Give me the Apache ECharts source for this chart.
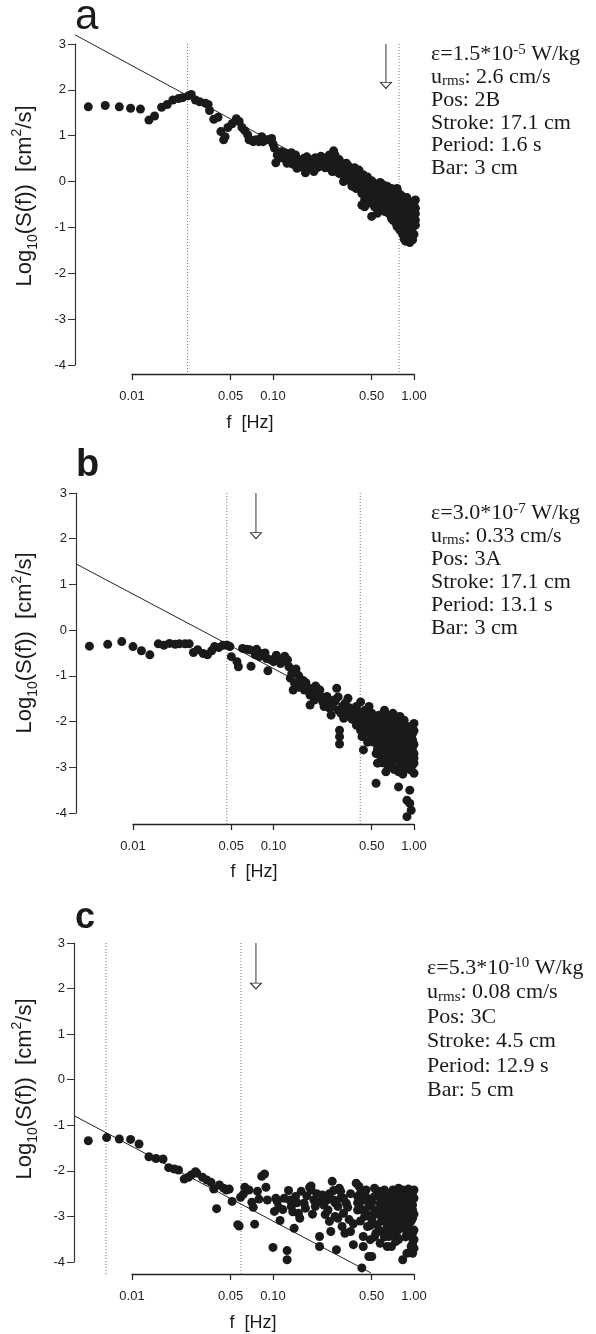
<!DOCTYPE html>
<html><head><meta charset="utf-8">
<script src="https://cdn.jsdelivr.net/npm/echarts@6/dist/echarts.min.js"></script>
<style>html,body{margin:0;padding:0;background:#fff}#c{width:596px;height:1334px}</style>
</head><body><div id="c"></div>
<script>
// ---------------- DATA (x = log10 f [Hz], y = log10 S(f) [cm^2/s]) ----------------
const xTickFreqs = [0.01, 0.05, 0.10, 0.50, 1.00];
const xTickLabels = ['0.01', '0.05', '0.10', '0.50', '1.00'];
const yRange = [-4, 3];

const pointsA = [
[-2.31,1.63],[-2.19,1.66],[-2.09,1.63],[-2.01,1.60],[-1.94,1.58],[-1.88,1.34],[-1.84,1.43],[-1.79,1.62],[-1.75,1.68],[-1.71,1.78],[-1.67,1.81],[-1.64,1.83],[-1.60,1.87],[-1.58,1.90],[-1.55,1.78],[-1.52,1.74],[-1.48,1.71],[-1.46,1.68],[-1.45,1.55],[-1.42,1.36],[-1.39,1.40],[-1.37,1.09],[-1.35,0.91],[-1.34,0.98],[-1.32,1.18],[-1.29,1.26],[-1.26,1.37],[-1.24,1.31],[-1.22,1.18],[-1.20,1.11],[-1.18,1.02],[-1.17,0.91],[-1.14,0.87],[-1.10,0.87],[-1.08,0.98],[-1.05,0.91],[-1.03,0.91],[-1.00,0.82],[-0.99,0.73],[-0.97,0.58],[-0.98,0.41],[-0.95,0.54],[-0.93,0.51],[-0.90,0.40],[-0.87,0.63],[-0.84,0.58],[-0.83,0.29],[-0.81,0.47],[-0.78,0.51],[-0.77,0.19],[-0.75,0.36],[-0.73,0.47],[-0.70,0.40],[-0.68,0.31],[-0.65,0.43],[-0.63,0.51],[-0.61,0.54],[-0.58,0.40],[-0.57,0.67],[-0.56,0.58],[-0.55,0.32],[-0.53,0.18],[-0.51,0.22],[-0.50,0.00],[-0.48,0.40],[-0.46,0.25],[-0.44,0.09],[-0.42,0.00],[-0.40,0.17],[-0.38,-0.11],[-0.37,-0.26],[-0.36,-0.04],[-0.34,0.07],[-0.32,-0.18],[-0.31,-0.29],[-0.37,-0.51],[-0.29,-0.04],[-0.30,-0.76],[-0.26,-0.33],[-0.25,-0.62],[-0.24,-0.15],[-0.23,-0.40],[-0.22,-0.07],[-0.19,-0.26],[-0.18,-0.69],[-0.17,-0.44],[-0.16,-0.55],[-0.15,-0.84],[-0.13,-0.33],[-0.12,-0.15],[-0.12,-0.98],[-0.11,-0.62],[-0.10,-0.76],[-0.10,-1.06],[-0.09,-0.40],[-0.08,-0.84],[-0.06,-0.98],[-0.06,-1.20],[-0.05,-0.69],[-0.04,-0.55],[-0.04,-1.24],[-0.03,-1.13],[-0.02,-0.91],[0.00,-0.47],[0.00,-0.69],[-0.02,-1.06],[-0.01,-1.27],[-0.06,-1.30],[-0.03,-1.33],[-0.08,-1.15],
[-0.94,0.65],[-0.89,0.47],[-0.86,0.38],[-0.82,0.38],[-0.76,0.43],[-0.74,0.29],[-0.71,0.22],[-0.69,0.41],[-0.64,0.38],[-0.62,0.41],[-0.60,0.58],[-0.58,0.22],[-0.54,0.43],[-0.51,0.36],[-0.49,0.29],[-0.45,0.18],[-0.43,0.22],[-0.41,0.03],[-0.39,0.11],[-0.35,-0.11],[-0.32,0.00],[-0.30,-0.15],[-0.28,-0.22],[-0.25,-0.11],[-0.23,-0.22],[-0.20,-0.33],[-0.18,-0.18],[-0.16,-0.33],[-0.15,-0.47],[-0.13,-0.62],[-0.11,-0.40],[-0.09,-0.55],[-0.08,-0.66],[-0.06,-0.47],[-0.05,-0.87],[-0.04,-0.76],[-0.03,-0.62],[-0.02,-0.76],[0.00,-0.95],[0.01,-0.84],[-0.04,-1.02],[-0.08,-1.13],[-0.05,-1.09],[0.01,-0.58],[0.01,-0.40],[-0.13,-0.76],[-0.16,-0.66],[-0.20,-0.55],[-0.22,-0.47],[-0.24,-0.55],[-0.26,-0.69],[-0.35,-0.40],[-0.31,-0.47],[-0.34,-0.33],[-0.41,-0.15],[-0.44,-0.04],[-0.46,0.03],[-0.48,0.14],[-0.52,0.29],[-0.56,0.46],[-0.59,0.51],[-0.67,0.47],[-0.76,0.54],[-0.80,0.32],[-0.88,0.54],[-0.91,0.62],[-1.01,0.94],[-1.12,0.91],[-1.07,0.87],[-1.16,0.91],
[-0.50,0.30],[-0.49,0.10],[-0.47,0.35],[-0.47,0.05],[-0.45,0.30],[-0.44,-0.10],[-0.43,0.12],[-0.42,0.30],[-0.40,-0.05],[-0.39,0.25],[-0.38,0.05],[-0.37,-0.15],[-0.36,0.15],[-0.35,-0.25],[-0.34,-0.05],[-0.33,0.10],[-0.33,-0.35],[-0.31,-0.10],[-0.30,0.02],[-0.29,-0.30],[-0.28,-0.05],[-0.27,-0.45],[-0.26,-0.15],[-0.25,-0.30],[-0.24,-0.02],[-0.23,-0.55],[-0.22,-0.30],[-0.21,-0.15],[-0.20,-0.42],[-0.19,-0.10],[-0.18,-0.55],[-0.17,-0.25],[-0.16,-0.15],[-0.15,-0.65],[-0.14,-0.40],[-0.14,-0.20],[-0.13,-0.90],[-0.12,-0.50],[-0.11,-0.25],[-0.11,-0.80],[-0.10,-0.55],[-0.09,-0.30],[-0.09,-0.95],[-0.08,-0.50],[-0.07,-0.75],[-0.07,-1.05],[-0.06,-0.60],[-0.05,-0.35],[-0.05,-0.95],[-0.04,-0.65],[-0.03,-0.45],[-0.03,-0.85],[-0.02,-1.18],[-0.02,-0.55],[-0.01,-0.70],[-0.01,-1.00],[0.00,-0.85],[0.00,-1.15],[0.01,-0.70],[0.01,-0.95],[0.00,-0.58],[-0.04,-1.15],[-0.07,-1.25],[-0.10,-0.95],[-0.16,-0.80],[-0.21,-0.65],[-0.28,-0.55],[-0.35,-0.55],[-0.53,0.48],[-0.55,0.45],[-0.57,0.30],[-0.60,0.35],[-0.63,0.30],[-0.66,0.55],[-0.70,0.52],[-0.72,0.33],[-0.79,0.42],[-0.85,0.45]
];
const pointsB = [
[-2.31,-0.35],[-2.18,-0.31],[-2.08,-0.25],[-2.00,-0.36],[-1.94,-0.45],[-1.88,-0.54],[-1.82,-0.30],[-1.78,-0.33],[-1.74,-0.29],[-1.70,-0.31],[-1.67,-0.30],[-1.63,-0.30],[-1.60,-0.30],[-1.57,-0.49],[-1.54,-0.43],[-1.50,-0.51],[-1.47,-0.54],[-1.44,-0.45],[-1.42,-0.36],[-1.39,-0.38],[-1.36,-0.33],[-1.33,-0.33],[-1.31,-0.36],[-1.30,-0.58],[-1.26,-0.69],[-1.25,-0.80],[-1.22,-0.40],[-1.19,-0.42],[-1.17,-0.43],[-1.16,-0.79],[-1.13,-0.54],[-1.12,-0.42],[-1.10,-0.58],[-1.08,-0.51],[-1.05,-0.62],[-1.04,-0.89],[-1.02,-0.65],[-1.00,-0.69],[-0.97,-0.62],[-0.95,-0.73],[-0.92,-0.57],[-0.90,-0.65],[-0.89,-0.80],[-0.88,-1.05],[-0.86,-1.31],[-0.84,-0.93],[-0.82,-1.00],[-0.80,-1.15],[-0.78,-1.31],[-0.76,-1.24],[-0.74,-1.64],[-0.72,-1.35],[-0.70,-1.22],[-0.67,-1.31],[-0.66,-1.46],[-0.64,-1.67],[-0.63,-1.49],[-0.60,-1.71],[-0.59,-1.86],[-0.57,-1.53],[-0.55,-1.27],[-0.54,-1.46],[-0.53,-2.19],[-0.53,-2.33],[-0.53,-2.49],[-0.51,-1.67],[-0.48,-1.82],[-0.47,-1.49],[-0.45,-1.75],[-0.43,-1.93],[-0.41,-1.67],[-0.40,-1.86],[-0.38,-2.08],[-0.38,-1.57],[-0.37,-2.33],[-0.36,-2.62],[-0.34,-1.82],[-0.32,-1.67],[-0.31,-1.97],[-0.30,-2.22],[-0.27,-2.70],[-0.27,-3.35],[-0.26,-2.91],[-0.25,-1.86],[-0.24,-2.11],[-0.22,-2.48],[-0.21,-1.75],[-0.20,-3.10],[-0.19,-2.26],[-0.18,-1.97],[-0.17,-2.55],[-0.15,-1.82],[-0.14,-2.11],[-0.13,-2.40],[-0.12,-2.70],[-0.11,-3.10],[-0.11,-3.43],[-0.10,-1.89],[-0.08,-2.26],[-0.07,-2.84],[-0.06,-3.02],[-0.05,-2.11],[-0.05,-3.72],[-0.03,-3.50],[-0.03,-3.79],[-0.02,-2.40],[-0.02,-3.94],[-0.01,-2.55],[0.00,-2.04],[0.00,-3.13],[0.00,-2.70],[-0.05,-4.08],
[-0.85,-1.16],[-0.82,-1.25],[-0.77,-1.15],[-0.74,-1.42],[-0.71,-1.53],[-0.69,-1.46],[-0.65,-1.57],[-0.61,-1.60],[-0.58,-1.67],[-0.54,-1.75],[-0.52,-1.82],[-0.50,-1.93],[-0.46,-1.89],[-0.43,-1.78],[-0.39,-1.97],[-0.35,-2.04],[-0.33,-1.93],[-0.30,-1.82],[-0.28,-2.04],[-0.26,-2.26],[-0.24,-1.93],[-0.22,-2.22],[-0.20,-2.00],[-0.18,-2.33],[-0.17,-2.11],[-0.15,-2.62],[-0.14,-2.29],[-0.13,-1.97],[-0.12,-2.22],[-0.11,-2.48],[-0.10,-2.77],[-0.08,-2.55],[-0.07,-1.97],[-0.06,-2.40],[-0.05,-2.66],[-0.03,-2.22],[-0.02,-2.84],[-0.01,-2.26],[0.00,-2.91],[-0.19,-2.62],[-0.21,-2.77],[-0.24,-2.55],[-0.28,-2.40],[-0.33,-2.19],[-0.38,-2.19],[-0.41,-2.08],[-0.07,-2.40],[-0.05,-2.99],[-0.08,-2.91],[-0.13,-2.84],[-0.15,-2.99],[-0.18,-2.84],
[-0.42,-1.72],[-0.40,-2.00],[-0.39,-1.80],[-0.37,-1.90],[-0.36,-2.15],[-0.35,-1.75],[-0.34,-2.25],[-0.33,-2.05],[-0.31,-1.85],[-0.31,-2.30],[-0.30,-2.10],[-0.29,-2.45],[-0.28,-1.90],[-0.27,-2.20],[-0.26,-2.05],[-0.25,-2.40],[-0.24,-2.75],[-0.23,-2.05],[-0.22,-2.35],[-0.21,-2.60],[-0.20,-1.85],[-0.20,-2.25],[-0.19,-2.45],[-0.18,-2.10],[-0.17,-2.70],[-0.17,-2.35],[-0.16,-1.95],[-0.15,-2.20],[-0.15,-2.45],[-0.14,-2.80],[-0.13,-2.10],[-0.12,-2.55],[-0.12,-1.90],[-0.11,-2.30],[-0.10,-2.60],[-0.10,-2.15],[-0.09,-2.95],[-0.09,-2.40],[-0.08,-2.05],[-0.07,-2.65],[-0.07,-2.25],[-0.06,-2.50],[-0.06,-2.10],[-0.05,-2.35],[-0.05,-2.80],[-0.04,-2.20],[-0.04,-2.55],[-0.03,-2.70],[-0.03,-2.35],[-0.02,-2.10],[-0.02,-2.50],[-0.01,-2.65],[-0.01,-2.40],[0.00,-2.20],[0.00,-2.50],[0.00,-2.80],[-0.01,-2.95],[-0.03,-3.05],[-0.08,-3.15],[-0.14,-3.05],[-0.19,-2.95],[-0.23,-2.90],[-0.26,-2.60],[-0.33,-2.45],[-0.44,-1.95],[-0.46,-1.70],[-0.49,-1.60],[-0.56,-1.55],[-0.62,-1.45],[-0.68,-1.30],[-0.73,-1.28],[-0.79,-1.10],[-0.84,-0.85],[-0.87,-0.95],[-0.93,-0.68],[-0.98,-0.55],[-1.06,-0.50]
];
const pointsC = [
[-2.31,-1.34],[-2.18,-1.27],[-2.09,-1.30],[-2.01,-1.31],[-1.95,-1.41],[-1.88,-1.69],[-1.83,-1.73],[-1.78,-1.74],[-1.74,-1.93],[-1.70,-1.96],[-1.67,-1.98],[-1.63,-2.18],[-1.60,-2.14],[-1.58,-2.09],[-1.55,-2.02],[-1.54,-2.05],[-1.50,-2.14],[-1.47,-2.20],[-1.44,-2.25],[-1.42,-2.40],[-1.40,-2.83],[-1.38,-2.31],[-1.35,-2.38],[-1.33,-2.42],[-1.31,-2.40],[-1.29,-2.67],[-1.25,-3.18],[-1.24,-3.21],[-1.23,-2.58],[-1.21,-2.51],[-1.20,-2.36],[-1.17,-2.42],[-1.15,-2.69],[-1.14,-2.80],[-1.13,-3.17],[-1.11,-2.45],[-1.10,-2.62],[-1.08,-2.12],[-1.06,-2.07],[-1.05,-2.36],[-1.04,-2.64],[-1.00,-3.68],[-0.99,-2.89],[-0.98,-2.60],[-0.97,-2.67],[-0.95,-3.09],[-0.93,-2.85],[-0.90,-3.75],[-0.90,-3.95],[-0.89,-2.43],[-0.88,-2.64],[-0.87,-2.78],[-0.85,-3.26],[-0.84,-2.56],[-0.82,-2.93],[-0.81,-3.04],[-0.78,-2.71],[-0.77,-2.82],[-0.74,-2.36],[-0.73,-2.42],[-0.71,-2.64],[-0.70,-2.78],[-0.67,-3.66],[-0.67,-3.44],[-0.66,-2.67],[-0.65,-2.53],[-0.63,-2.96],[-0.62,-2.64],[-0.61,-2.86],[-0.59,-3.33],[-0.58,-2.23],[-0.57,-2.43],[-0.57,-2.64],[-0.55,-3.73],[-0.54,-3.04],[-0.54,-2.78],[-0.53,-2.38],[-0.52,-2.60],[-0.51,-3.22],[-0.50,-2.93],[-0.49,-3.37],[-0.48,-2.71],[-0.46,-3.07],[-0.45,-3.33],[-0.43,-3.16],[-0.43,-3.62],[-0.41,-2.27],[-0.40,-2.56],[-0.40,-2.86],[-0.39,-2.34],[-0.38,-2.49],[-0.38,-2.67],[-0.37,-4.13],[-0.36,-3.44],[-0.36,-3.66],[-0.35,-3.00],[-0.35,-2.64],[-0.34,-2.42],[-0.33,-3.22],[-0.32,-3.88],[-0.32,-2.78],[-0.31,-3.51],[-0.30,-3.88],[-0.30,-3.07],[-0.28,-2.56],[-0.27,-3.37],[-0.27,-2.86],[-0.26,-3.18],[-0.25,-2.45],[-0.24,-3.59],[-0.23,-2.64],[-0.22,-3.00],[-0.22,-3.33],[-0.21,-2.42],[-0.20,-2.78],[-0.19,-3.66],[-0.19,-3.22],[-0.18,-2.56],[-0.18,-3.44],[-0.17,-3.00],[-0.16,-2.71],[-0.16,-3.66],[-0.15,-2.42],[-0.14,-2.86],[-0.14,-3.15],[-0.12,-2.56],[-0.11,-2.93],[-0.11,-3.29],[-0.10,-2.71],[-0.09,-3.04],[-0.08,-3.95],[-0.08,-2.42],[-0.07,-2.64],[-0.06,-2.86],[-0.05,-3.81],[-0.05,-2.49],[-0.04,-3.00],[-0.03,-2.75],[-0.03,-2.64],[-0.02,-3.66],[-0.01,-3.37],[-0.01,-2.86],[-0.01,-3.81],[-0.01,-3.04],[0.00,-3.51],[0.00,-2.42],[-0.04,-2.40],[-0.11,-2.38],[-0.73,-2.33],[-0.60,-3.11],[-0.56,-3.00],[-0.24,-2.71],[-0.14,-2.64],[-0.08,-2.56],[-0.20,-2.49],[-0.28,-2.38],[-0.35,-2.53],[-0.05,-3.37],[-0.11,-3.51],
[-0.40,-2.70],[-0.38,-3.10],[-0.37,-2.85],[-0.36,-2.50],[-0.34,-2.95],[-0.33,-2.60],[-0.31,-3.20],[-0.30,-2.70],[-0.29,-2.95],[-0.28,-3.45],[-0.27,-2.55],[-0.26,-2.95],[-0.25,-3.30],[-0.24,-2.85],[-0.23,-3.10],[-0.22,-2.55],[-0.21,-3.45],[-0.20,-2.95],[-0.19,-2.70],[-0.18,-3.10],[-0.17,-2.50],[-0.16,-2.90],[-0.15,-3.30],[-0.14,-2.55],[-0.13,-3.00],[-0.12,-2.75],[-0.12,-3.45],[-0.11,-2.60],[-0.10,-3.15],[-0.09,-2.50],[-0.09,-2.85],[-0.08,-3.25],[-0.07,-2.95],[-0.07,-2.55],[-0.06,-3.10],[-0.06,-2.70],[-0.05,-2.90],[-0.04,-2.60],[-0.04,-3.20],[-0.03,-2.50],[-0.03,-2.95],[-0.02,-2.70],[-0.02,-3.10],[-0.01,-2.55],[-0.01,-2.75],[0.00,-2.60],[0.00,-2.95],[0.00,-3.30],[0.00,-3.70],[-0.01,-3.60],[-0.02,-3.45],[-0.06,-3.45],[-0.13,-3.55],[-0.16,-3.35],[-0.45,-2.50],[-0.47,-2.80],[-0.50,-2.60],[-0.52,-2.45],[-0.56,-2.70],[-0.60,-2.50],[-0.64,-2.75],[-0.69,-2.50],[-0.72,-2.95],[-0.76,-2.55],[-0.80,-2.45],[-0.83,-2.70],[-0.86,-2.90],[-0.92,-2.60],[-0.96,-2.80]
];

// fitted -5/3 lines (endpoints), dotted marker frequencies, arrows [log10 f, top, tip]
const fitA = [[-2.404, 3.20], [0.05, -0.88]];
const fitB = [[-2.406, 1.45], [0.08, -2.60]];
const fitC = [[-2.411, -0.79], [-0.305, -4.24]];
const dottedA = [-1.606, -0.106];
const dottedB = [-1.333, -0.383];
const dottedC = [-2.184, -1.227];
const arrowA = [-0.199, 3.0, 2.03];
const arrowB = [-1.125, 3.0, 2.0];
const arrowC = [-1.121, 3.0, 1.99];

const infoA = {eps: '1.5', exp: '-5', urms: '2.6', pos: '2B', stroke: '17.1', period: '1.6', bar: '3'};
const infoB = {eps: '3.0', exp: '-7', urms: '0.33', pos: '3A', stroke: '17.1', period: '13.1', bar: '3'};
const infoC = {eps: '5.3', exp: '-10', urms: '0.08', pos: '3C', stroke: '4.5', period: '12.9', bar: '5'};
const letters = ['a', 'b', 'c'];

// ---------------- LAYOUT ----------------
const panels = [
  {pts: pointsA, fit: fitA, dotted: dottedA, arrow: arrowA, info: infoA,
   gl: 75, gt: 44, gh: 321, axL: 132, axW: 282, axY: 374,
   letter: {x: 75, y: 17, size: 42, weight: 'normal'}, title: {x: 25, y: 196},
   infoPos: {x: 431, y: 43, lh: 22.8}, fhz: {x: 250, y: 423}},
  {pts: pointsB, fit: fitB, dotted: dottedB, arrow: arrowB, info: infoB,
   gl: 76, gt: 493, gh: 320, axL: 133, axW: 281, axY: 824,
   letter: {x: 76, y: 466, size: 38, weight: 'bold'}, title: {x: 25, y: 643},
   infoPos: {x: 431, y: 502, lh: 23}, fhz: {x: 254, y: 872}},
  {pts: pointsC, fit: fitC, dotted: dottedC, arrow: arrowC, info: infoC,
   gl: 74, gt: 943, gh: 319, axL: 132, axW: 282, axY: 1274,
   letter: {x: 75, y: 918, size: 36, weight: 'bold'}, title: {x: 25, y: 1089},
   infoPos: {x: 427, y: 956, lh: 24.4}, fhz: {x: 253, y: 1323}}
];

const INK = '#1a1a1a';
const tickLog = xTickFreqs.map(v => Math.log10(v));
const grid = [], xAxis = [], yAxis = [], series = [], graphic = [];

panels.forEach((p, i) => {
  const pxPerDec = p.axW / 2;
  const xMin = -2 - (p.axL - p.gl) / pxPerDec;
  const gw = p.axL + p.axW - p.gl;
  const pxPerUnit = p.gh / (yRange[1] - yRange[0]);
  const yBottom = yRange[0] - (p.axY - (p.gt + p.gh)) / pxPerUnit;
  const g1 = i * 2, g2 = i * 2 + 1;

  grid.push({left: p.gl, top: p.gt, width: gw, height: p.gh});
  grid.push({left: p.axL, top: p.axY - 1, width: p.axW, height: 1});

  xAxis.push({gridIndex: g1, type: 'value', min: xMin, max: 0, show: false});
  xAxis.push({gridIndex: g2, type: 'value', min: -2, max: 0, position: 'bottom',
    axisLine: {show: true, lineStyle: {color: '#222', width: 1.3}},
    axisTick: {show: true, customValues: tickLog, length: 6, lineStyle: {color: '#222', width: 1.2}},
    axisLabel: {show: true, customValues: tickLog, margin: 16, fontSize: 13, color: '#222',
      fontFamily: 'Liberation Sans',
      formatter: v => { const k = tickLog.findIndex(t => Math.abs(t - v) < 1e-6); return k >= 0 ? xTickLabels[k] : ''; }},
    splitLine: {show: false}});

  yAxis.push({gridIndex: g1, type: 'value', min: yRange[0], max: yRange[1], interval: 1,
    axisLine: {show: true, onZero: false, lineStyle: {color: '#333', width: 1.2}},
    axisTick: {show: true, length: 7, lineStyle: {color: '#333', width: 1}},
    axisLabel: {margin: 9, fontSize: 13, color: '#222', fontFamily: 'Liberation Sans'},
    splitLine: {show: false}});
  yAxis.push({gridIndex: g2, type: 'value', min: 0, max: 1, show: false});

  p.dotted.forEach(x => {
    series.push({type: 'line', xAxisIndex: g1, yAxisIndex: g1, clip: false, silent: true,
      symbol: 'none', data: [[x, yRange[1]], [x, yBottom]],
      lineStyle: {color: '#777', width: 1, type: [1, 2]}, z: 1});
  });
  series.push({type: 'line', xAxisIndex: g1, yAxisIndex: g1, clip: false, silent: true,
    symbol: 'none', data: p.fit, lineStyle: {color: '#222', width: 1}, z: 2});
  series.push({type: 'line', xAxisIndex: g1, yAxisIndex: g1, clip: false, silent: true,
    symbol: 'none', data: [[p.arrow[0], p.arrow[1]], [p.arrow[0], p.arrow[2]]],
    lineStyle: {color: '#333', width: 1}, z: 2});
  series.push({type: 'scatter', xAxisIndex: g1, yAxisIndex: g1, clip: false, silent: true,
    data: [[p.arrow[0], p.arrow[2]]], symbol: 'path://M0,0L12,0L6,7Z', symbolKeepAspect: false,
    symbolSize: [11, 6], symbolOffset: [0, '-50%'],
    itemStyle: {color: '#fff', borderColor: '#333', borderWidth: 1, opacity: 1}, z: 4});
  series.push({type: 'scatter', xAxisIndex: g1, yAxisIndex: g1, clip: false, silent: true,
    data: p.pts, symbol: 'circle', symbolSize: 9, itemStyle: {color: INK, opacity: 1}, z: 3});

  graphic.push({type: 'text', x: p.letter.x, y: p.letter.y, style: {
    text: letters[i], fontSize: p.letter.size, fontWeight: p.letter.weight,
    fontFamily: 'Liberation Sans', fill: INK, align: 'left', verticalAlign: 'middle'}});
  graphic.push({type: 'text', x: p.title.x, y: p.title.y, rotation: Math.PI / 2, style: {
    text: '{n|Log}{sub|10}{n|(S(f))  [cm}{sup|2}{n|/s]}', align: 'center', verticalAlign: 'middle',
    rich: {
      n: {fontSize: 22, fontFamily: 'Liberation Sans', fill: INK, lineHeight: 30, verticalAlign: 'middle'},
      sub: {fontSize: 14, fontFamily: 'Liberation Sans', fill: INK, lineHeight: 10, verticalAlign: 'bottom'},
      sup: {fontSize: 14, fontFamily: 'Liberation Sans', fill: INK, lineHeight: 10, verticalAlign: 'top'}
    }}});
  graphic.push({type: 'text', x: p.fhz.x, y: p.fhz.y, style: {
    text: 'f  [Hz]', fontSize: 18, fontFamily: 'Liberation Sans', fill: INK,
    align: 'center', verticalAlign: 'middle'}});
  const inf = p.info;
  const txt = `{n|\u03b5=${inf.eps}*10}{sup|${inf.exp}}{n| W/kg}\n{n|u}{sub|rms}{n|: ${inf.urms} cm/s}\n` +
    `{n|Pos: ${inf.pos}}\n{n|Stroke: ${inf.stroke} cm}\n{n|Period: ${inf.period} s}\n{n|Bar: ${inf.bar} cm}`;
  graphic.push({type: 'text', x: p.infoPos.x, y: p.infoPos.y, style: {
    text: txt, align: 'left', verticalAlign: 'top',
    rich: {
      n: {fontSize: 22, fontFamily: 'Liberation Serif', fill: INK, lineHeight: p.infoPos.lh, verticalAlign: 'middle'},
      sup: {fontSize: 15, fontFamily: 'Liberation Serif', fill: INK, lineHeight: 12, verticalAlign: 'top'},
      sub: {fontSize: 15, fontFamily: 'Liberation Serif', fill: INK, lineHeight: 8, verticalAlign: 'bottom'}
    }}});
});

const chart = echarts.init(document.getElementById('c'), null, {renderer: 'canvas'});
chart.setOption({animation: false, backgroundColor: '#fff', grid, xAxis, yAxis, series, graphic});
</script>
</body></html>
